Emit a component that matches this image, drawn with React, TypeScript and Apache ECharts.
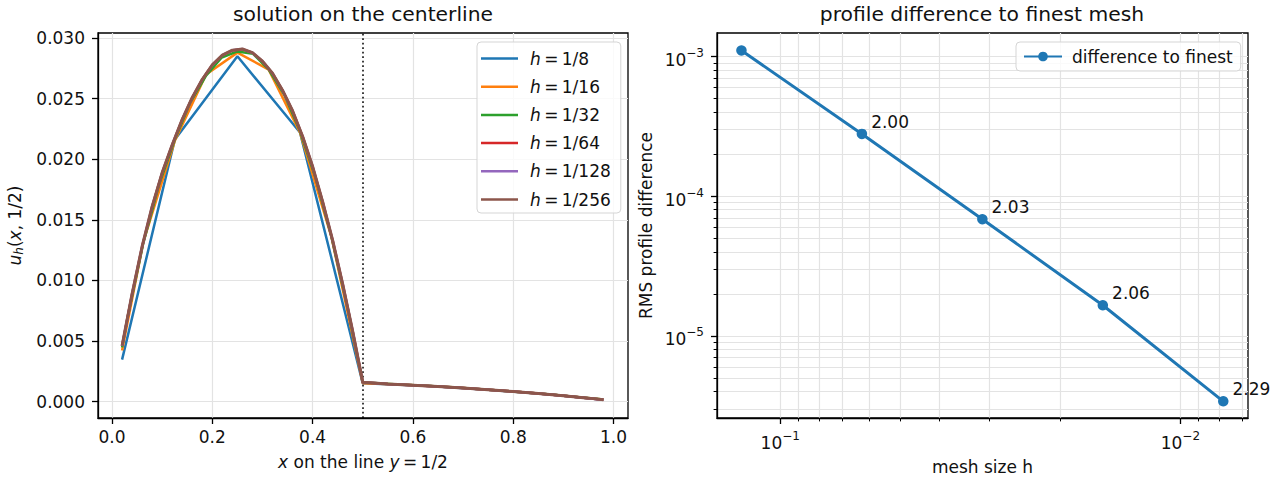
import React, { useEffect, useRef } from 'react';
import * as echarts from 'echarts';

const FONT = 'DejaVu Sans';
const TXT = '#111';
const FS = 17;

// ---------- left panel data ----------
const hLabels = ['1/8', '1/16', '1/32', '1/64', '1/128', '1/256'];
const lineColors = ['#1f77b4', '#ff7f0e', '#2ca02c', '#d62728', '#9467bd', '#8c564b'];

const xH8 = [0.02, 0.125, 0.25, 0.375, 0.5, 0.625, 0.75, 0.875, 0.98];
const yH8 = [0.00346, 0.0216, 0.0285, 0.0222, 0.0015, 0.0013, 0.00098, 0.00057, 0.00015];

const xH16 = [0.02, 0.0625, 0.125, 0.1875, 0.25, 0.3125, 0.375, 0.4375, 0.5, 0.5625, 0.625, 0.6875, 0.75, 0.8125, 0.875, 0.9375, 0.98];
const yH16 = [0.00422, 0.0132, 0.0215, 0.027, 0.0288, 0.0274, 0.0222, 0.0136, 0.0015, 0.00143, 0.0013, 0.00115, 0.00098, 0.00078, 0.00057, 0.00034, 0.00016];

const xH32 = [0.02, 0.03125, 0.0625, 0.09375, 0.125, 0.15625, 0.1875, 0.21875, 0.25, 0.28125, 0.3125, 0.34375, 0.375, 0.40625, 0.4375, 0.46875, 0.5, 0.5625, 0.625, 0.6875, 0.75, 0.8125, 0.875, 0.9375, 0.98];
const yH32 = [0.00447, 0.00699, 0.0131, 0.0179, 0.0216, 0.0247, 0.0269, 0.0284, 0.0289, 0.0287, 0.0274, 0.0253, 0.0223, 0.0184, 0.0136, 0.0079, 0.0016, 0.00143, 0.0013, 0.00115, 0.00098, 0.00078, 0.00057, 0.00034, 0.00016];

const xFine = [0.02, 0.04, 0.06, 0.08, 0.1, 0.12, 0.14, 0.16, 0.18, 0.2, 0.22, 0.24, 0.26, 0.28, 0.3, 0.32, 0.34, 0.36, 0.38, 0.4, 0.42, 0.44, 0.46, 0.48, 0.5, 0.55, 0.6, 0.65, 0.7, 0.75, 0.8, 0.85, 0.9, 0.95, 0.98];
const yH64 = [0.00458, 0.00888, 0.01278, 0.01608, 0.01888, 0.02118, 0.02328, 0.02508, 0.02658, 0.02778, 0.02858, 0.02898, 0.02908, 0.02878, 0.02808, 0.02708, 0.02568, 0.02398, 0.02188, 0.01938, 0.01648, 0.01328, 0.00968, 0.00578, 0.00159, 0.00145, 0.00135, 0.00124, 0.00112, 0.00098, 0.00082, 0.00066, 0.00048, 0.00028, 0.00015];
const yH128 = [0.00459, 0.00889, 0.01279, 0.01609, 0.01889, 0.02119, 0.02329, 0.02509, 0.02659, 0.02779, 0.02859, 0.02899, 0.02909, 0.02879, 0.02809, 0.02709, 0.02569, 0.02399, 0.02189, 0.01939, 0.01649, 0.01329, 0.00969, 0.00579, 0.0016, 0.00145, 0.00135, 0.00124, 0.00112, 0.00098, 0.00082, 0.00066, 0.00048, 0.00028, 0.00015];
const yH256 = [0.0046, 0.0089, 0.0128, 0.0161, 0.0189, 0.0212, 0.0233, 0.0251, 0.0266, 0.0278, 0.0286, 0.029, 0.0291, 0.0288, 0.0281, 0.0271, 0.0257, 0.024, 0.0219, 0.0194, 0.0165, 0.0133, 0.0097, 0.0058, 0.0016, 0.00145, 0.00135, 0.00124, 0.00112, 0.00098, 0.00082, 0.00066, 0.00048, 0.00028, 0.00015];

const seriesX = [xH8, xH16, xH32, xFine, xFine, xFine];
const seriesY = [yH8, yH16, yH32, yH64, yH128, yH256];
const dividerX = 0.5;

const leftXTicks = [0, 0.2, 0.4, 0.6, 0.8, 1.0];
const leftYTicks = [0, 0.005, 0.01, 0.015, 0.02, 0.025, 0.03];

// ---------- right panel data ----------
const meshH = [0.125, 0.0625, 0.03125, 0.015625, 0.0078125];
const rmsDiff = [1.104e-3, 2.79e-4, 6.84e-5, 1.655e-5, 3.4e-6];
const rates = ['2.00', '2.03', '2.06', '2.29'];
const rightXMajor = [0.1, 0.01];
const rightYMajor = [1e-3, 1e-4, 1e-5];
const rightXMinor = [0.09, 0.08, 0.07, 0.06, 0.05, 0.04, 0.03, 0.02, 0.009, 0.008, 0.007];
const rightYMinor = [
  9e-4, 8e-4, 7e-4, 6e-4, 5e-4, 4e-4, 3e-4, 2e-4,
  9e-5, 8e-5, 7e-5, 6e-5, 5e-5, 4e-5, 3e-5, 2e-5,
  9e-6, 8e-6, 7e-6, 6e-6, 5e-6, 4e-6, 3e-6,
];

const lg = Math.log10;

const base = { fontFamily: FONT, fontSize: FS, color: TXT };
const gridLine = { show: true, lineStyle: { color: '#e3e3e3', width: 1.2 } };
const blackLine = { color: '#000', width: 1.3 };
const majorTick = { color: '#000', width: 1.3 };
const minorTick = { color: '#000', width: 1 };

const powRich = {
  b: { fontFamily: FONT, fontSize: FS, color: TXT, padding: [7, 0, 0, 0] },
  s: { fontFamily: FONT, fontSize: 12, color: TXT, padding: [0, 0, 7, 0] },
};
const powFmt = (v: number) => `{b|10}{s|\u2212${Math.round(-v)}}`;

const mathRich = {
  i: { fontFamily: FONT, fontSize: FS, color: TXT, fontStyle: 'italic' },
  n: { fontFamily: FONT, fontSize: FS, color: TXT },
  sub: { fontFamily: FONT, fontSize: 12, color: TXT, fontStyle: 'italic', padding: [7, 0, 0, 0] },
};

export default function App() {
  const ref = useRef<HTMLDivElement>(null);

  useEffect(() => {
    if (!ref.current) return;
    const chart = echarts.init(ref.current, undefined, { renderer: 'svg' });

    const leftSeries: any[] = seriesY.map((ys, k) => ({
      type: 'line',
      name: hLabels[k],
      xAxisIndex: 0,
      yAxisIndex: 0,
      data: ys.map((y, i) => [seriesX[k][i], y]),
      symbol: 'none',
      showSymbol: false,
      lineStyle: { width: k === 5 ? 3 : 2.5, color: lineColors[k] },
      itemStyle: { color: lineColors[k] },
      z: 2 + k,
      markLine: k === 0 ? {
        silent: true,
        symbol: ['none', 'none'],
        label: { show: false },
        lineStyle: { color: '#000', width: 1.5, type: [1.7, 2.8] },
        data: [{ xAxis: dividerX }],
      } : undefined,
    }));

    const rightSeries = {
      type: 'line',
      name: 'difference to finest',
      xAxisIndex: 1,
      yAxisIndex: 1,
      data: meshH.map((h, i) => ({
        value: [lg(h), lg(rmsDiff[i])],
        label: { show: i > 0, formatter: i > 0 ? rates[i - 1] : '' },
      })),
      symbol: 'circle',
      symbolSize: 10.5,
      lineStyle: { width: 3, color: '#1f77b4' },
      itemStyle: { color: '#1f77b4' },
      label: { position: 'right', distance: 4, offset: [0, -12], ...base },
      z: 5,
    };

    const titleStyle = { fontFamily: FONT, fontSize: 20.3, fontWeight: 'normal', color: TXT };

    const option: any = {
      animation: false,
      backgroundColor: '#fff',
      title: [
        { text: 'solution on the centerline', left: 363, top: 4, textAlign: 'center', padding: 0, textStyle: titleStyle },
        { text: 'profile difference to finest mesh', left: 982, top: 4, textAlign: 'center', padding: 0, textStyle: titleStyle },
      ],
      grid: [
        { left: 98, top: 33, width: 530, height: 385, show: true, borderColor: '#000', borderWidth: 1.3, containLabel: false, outerBoundsMode: 'none' },
        { left: 717, top: 33, width: 531, height: 385, show: true, borderColor: '#000', borderWidth: 1.3, containLabel: false, outerBoundsMode: 'none' },
      ],
      legend: [
        {
          data: hLabels,
          orient: 'vertical',
          left: 477,
          top: 42,
          icon: 'rect',
          itemWidth: 37,
          itemHeight: 2.5,
          itemGap: 11.2,
          padding: [8, 10, 5, 4],
          backgroundColor: 'rgba(255,255,255,0.8)',
          borderColor: '#d5d5d5',
          borderWidth: 1,
          borderRadius: 4,
          selectedMode: false,
          formatter: (name: string) => `{i|h}{n|\u2009=\u2009${name}}`,
          textStyle: {
            ...base,
            rich: {
              i: { fontFamily: FONT, fontSize: FS, color: TXT, fontStyle: 'italic', padding: [0, 0, 0, 7] },
              n: { fontFamily: FONT, fontSize: FS, color: TXT },
            },
          },
        },
        {
          data: ['difference to finest'],
          left: 1016,
          top: 42,
          itemWidth: 38,
          itemHeight: 12,
          padding: [6, 8, 6, 7],
          backgroundColor: 'rgba(255,255,255,0.8)',
          borderColor: '#d5d5d5',
          borderWidth: 1,
          borderRadius: 4,
          selectedMode: false,
          textStyle: { ...base, padding: [0, 0, 0, 5] },
        },
      ],
      xAxis: [
        {
          type: 'value', gridIndex: 0, min: -0.028, max: 1.029,
          axisLine: { show: true, onZero: false, lineStyle: blackLine },
          axisTick: { show: true, customValues: leftXTicks, length: 6, lineStyle: majorTick },
          axisLabel: { ...base, customValues: leftXTicks, margin: 10, formatter: (v: number) => v.toFixed(1) },
          splitLine: gridLine,
          name: '{i|x}{n| on the line }{i|y}{n|\u2009=\u20091/2}',
          nameLocation: 'middle', nameGap: 35.5, nameMoveOverlap: false,
          nameTextStyle: { ...base, rich: mathRich },
        },
        {
          type: 'value', gridIndex: 1, position: 'bottom', inverse: true, min: -2.169, max: -0.842,
          axisLine: { show: true, onZero: false, lineStyle: blackLine },
          axisTick: { show: true, customValues: rightXMajor.map(lg), length: 6, lineStyle: majorTick },
          axisLabel: { ...base, customValues: rightXMajor.map(lg), margin: 9, formatter: powFmt, rich: powRich },
          splitLine: gridLine,
          name: 'mesh size h',
          nameLocation: 'middle', nameGap: 40, nameMoveOverlap: false,
          nameTextStyle: base,
          z: 3,
        },
        {
          type: 'value', gridIndex: 1, position: 'bottom', inverse: true, min: -2.169, max: -0.842,
          axisLine: { show: false, onZero: false },
          axisTick: { show: true, customValues: rightXMinor.map(lg), length: 3.4, lineStyle: minorTick },
          axisLabel: { show: false, customValues: rightXMinor.map(lg) },
          splitLine: gridLine,
        },
      ],
      yAxis: [
        {
          type: 'value', gridIndex: 0, min: -0.00136, max: 0.03042,
          axisLine: { show: true, onZero: false, lineStyle: blackLine },
          axisTick: { show: true, customValues: leftYTicks, length: 6, lineStyle: majorTick },
          axisLabel: { ...base, customValues: leftYTicks, margin: 13, formatter: (v: number) => v.toFixed(3) },
          splitLine: gridLine,
          name: '{i|u}{sub|h}{n|(}{i|x}{n|, 1/2)}',
          nameLocation: 'middle', nameGap: 73.5, nameMoveOverlap: false,
          nameTextStyle: { ...base, rich: mathRich },
        },
        {
          type: 'value', gridIndex: 1, position: 'left', min: -5.588, max: -2.832,
          axisLine: { show: true, onZero: false, lineStyle: blackLine },
          axisTick: { show: true, customValues: rightYMajor.map(lg), length: 6, lineStyle: majorTick },
          axisLabel: { ...base, customValues: rightYMajor.map(lg), margin: 13, formatter: powFmt, rich: powRich },
          splitLine: gridLine,
          name: 'RMS profile difference',
          nameLocation: 'middle', nameGap: 62.5, nameMoveOverlap: false,
          nameTextStyle: base,
          z: 3,
        },
        {
          type: 'value', gridIndex: 1, position: 'left', min: -5.588, max: -2.832,
          axisLine: { show: false, onZero: false },
          axisTick: { show: true, customValues: rightYMinor.map(lg), length: 3.4, lineStyle: minorTick },
          axisLabel: { show: false, customValues: rightYMinor.map(lg) },
          splitLine: gridLine,
        },
      ],
      series: [...leftSeries, rightSeries],
    };

    chart.setOption(option);
    return () => chart.dispose();
  }, []);

  return (
    <div
      ref={ref}
      style={{ position: 'fixed', left: 0, top: 0, width: 1279, height: 479, background: '#fff' }}
    />
  );
}
